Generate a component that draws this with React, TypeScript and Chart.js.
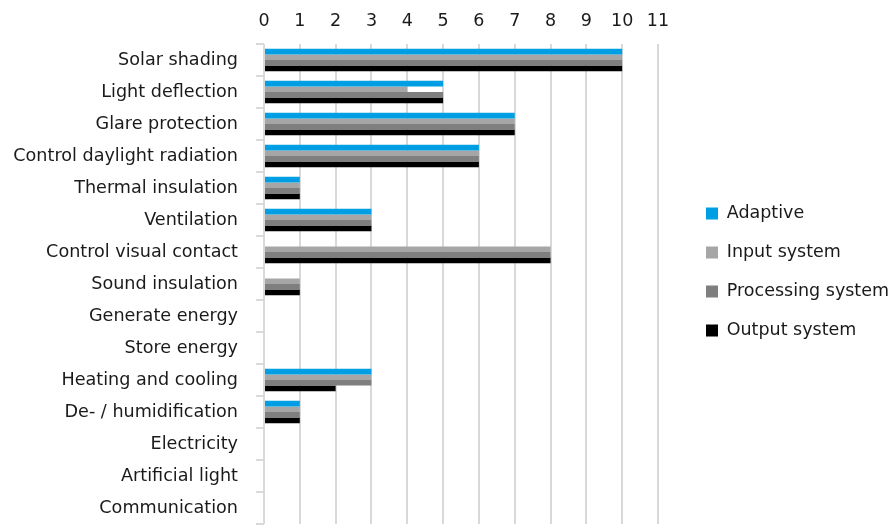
import React, { useEffect, useRef } from "react";
import { Chart, registerables } from "chart.js";

Chart.register(...registerables);

const categories = [
  "Solar shading",
  "Light deflection",
  "Glare protection",
  "Control daylight radiation",
  "Thermal insulation",
  "Ventilation",
  "Control visual contact",
  "Sound insulation",
  "Generate energy",
  "Store energy",
  "Heating and cooling",
  "De- / humidification",
  "Electricity",
  "Artificial light",
  "Communication",
];

const seriesNames = ["Adaptive", "Input system", "Processing system", "Output system"];
const adaptive = [10, 5, 7, 6, 1, 3, 0, 0, 0, 0, 3, 1, 0, 0, 0];
const inputSystem = [10, 4, 7, 6, 1, 3, 8, 1, 0, 0, 3, 1, 0, 0, 0];
const processingSystem = [10, 5, 7, 6, 1, 3, 8, 1, 0, 0, 3, 1, 0, 0, 0];
const outputSystem = [10, 5, 7, 6, 1, 3, 8, 1, 0, 0, 2, 1, 0, 0, 0];
const seriesColors = ["#009fe3", "#a6a6a6", "#7f7f7f", "#000000"];
const xMin = 0;
const xMax = 11;

const FONT = "'DejaVu Sans', Verdana, sans-serif";
const LEGEND_WIDTH = 238;
const LEGEND_ITEM_X = 706;
const LEGEND_DY = 10;

const legendPlacer = {
  id: "legendPlacer",
  beforeLayout(chart: any) {
    const l = chart.legend;
    if (!l || l._patched) return;
    const orig = l.fit;
    l.fit = function () {
      orig.call(this);
      this.width = LEGEND_WIDTH;
    };
    l._patched = true;
  },
  afterLayout(chart: any) {
    const l = chart.legend;
    if (!l) return;
    const pad = l.options.labels.padding;
    const dx = LEGEND_ITEM_X - (l.left + pad);
    l.left += dx;
    l.right += dx;
    l.top += LEGEND_DY;
    l.bottom += LEGEND_DY;
  },
};

export default function App() {
  const ref = useRef<HTMLCanvasElement>(null);
  useEffect(() => {
    if (!ref.current) return;
    const values = [adaptive, inputSystem, processingSystem, outputSystem];
    const chart = new Chart(ref.current, {
      type: "bar",
      data: {
        labels: categories,
        datasets: values.map((v, i) => ({
          label: seriesNames[i],
          data: v,
          backgroundColor: seriesColors[i],
          borderWidth: 0,
          categoryPercentage: 0.7,
          barPercentage: 1,
        })),
      },
      options: {
        indexAxis: "y",
        responsive: false,
        animation: false,
        layout: { padding: { top: 0, bottom: 2, left: 0, right: 0 } },
        scales: {
          x: {
            position: "top",
            min: xMin,
            max: xMax,
            ticks: {
              stepSize: 1,
              color: "#1a1a1a",
              font: { family: FONT, size: 17.5 },
              padding: 12,
            },
            grid: { color: "#d9d9d9", lineWidth: 2, drawTicks: false },
            border: { display: false },
            afterFit: (s: any) => {
              s.height = 44;
            },
          },
          y: {
            ticks: {
              color: "#1a1a1a",
              font: { family: FONT, size: 17.6 },
              padding: 18,
              autoSkip: false,
            },
            grid: {
              drawOnChartArea: false,
              drawTicks: true,
              tickLength: 8,
              color: "#d9d9d9",
              lineWidth: 2,
            },
            border: { display: false },
            afterFit: (s: any) => {
              s.width = 264;
              s.paddingTop = 0;
              s.paddingBottom = 0;
            },
          },
        },
        plugins: {
          legend: {
            position: "right",
            labels: {
              boxWidth: 12,
              boxHeight: 12,
              padding: 21.5,
              color: "#1a1a1a",
              font: { family: FONT, size: 17.5 },
            },
          },
          tooltip: { enabled: false },
        },
      },
      plugins: [legendPlacer],
    });
    return () => chart.destroy();
  }, []);
  return (
    <div style={{ position: "fixed", left: 0, top: 0, width: 896, height: 526, background: "#fff" }}>
      <canvas ref={ref} width={896} height={526} />
    </div>
  );
}
